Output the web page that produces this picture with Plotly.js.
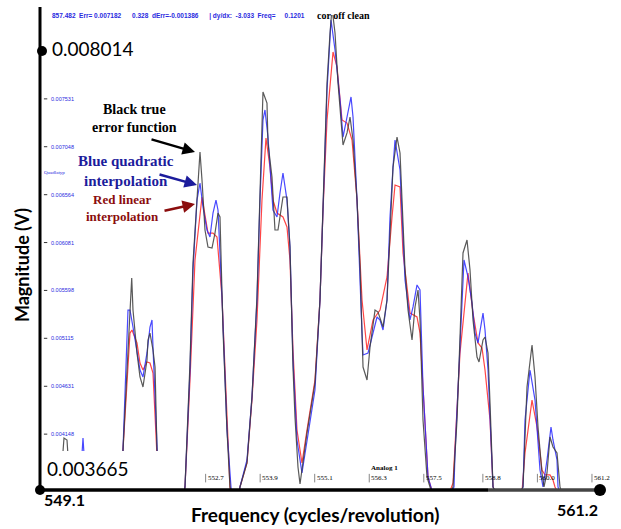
<!DOCTYPE html>
<html>
<head>
<meta charset="utf-8">
<script src="https://cdn.plot.ly/plotly-3.0.1.min.js"></script>
<style>html,body{margin:0;padding:0;background:#fff;}#chart{width:621px;height:529px;}</style>
</head>
<body>
<div id="chart"></div>
<script>
// Frequency (cycles/revolution) and magnitude (V)
const blackFreq = [549.100, 549.452, 549.584, 549.650, 549.760, 550.838, 550.882, 551.074, 551.102, 551.190, 551.256, 551.322, 551.410, 551.432, 551.476, 551.542, 551.587, 551.630, 551.696, 552.136, 552.246, 552.356, 552.422, 552.510, 552.576, 552.620, 552.686, 552.752, 552.840, 552.906, 552.972, 553.016, 553.082, 553.170, 553.236, 553.346, 553.456, 553.610, 553.720, 553.830, 553.896, 553.962, 554.050, 554.072, 554.160, 554.226, 554.292, 554.402, 554.490, 554.556, 554.622, 554.666, 554.732, 554.777, 554.930, 555.106, 555.216, 555.283, 555.371, 555.437, 555.481, 555.547, 555.613, 555.701, 555.723, 555.811, 555.877, 555.943, 556.031, 556.097, 556.163, 556.251, 556.317, 556.427, 556.493, 556.603, 556.691, 556.757, 556.823, 556.911, 556.977, 557.087, 557.153, 557.241, 557.307, 557.373, 557.417, 557.483, 557.571, 557.637, 557.857, 558.143, 558.231, 558.297, 558.363, 558.451, 558.517, 558.583, 558.671, 558.715, 558.803, 558.847, 558.913, 558.957, 559.023, 559.353, 559.683, 559.771, 559.881, 559.947, 560.013, 560.101, 560.145, 560.211, 560.277, 560.343, 560.431, 560.497, 560.717];
const blackMag = [0.0033, 0.0033, 0.004109, 0.004089, 0.0033, 0.0033, 0.003988, 0.005723, 0.0054, 0.004967, 0.004725, 0.004624, 0.004896, 0.005098, 0.005168, 0.004997, 0.004825, 0.003988, 0.0033, 0.0033, 0.003615, 0.004866, 0.005875, 0.006541, 0.006995, 0.006712, 0.006208, 0.006036, 0.006026, 0.006177, 0.006379, 0.006339, 0.005199, 0.00419, 0.003615, 0.0033, 0.003615, 0.003857, 0.004523, 0.005532, 0.006541, 0.0076, 0.007489, 0.007086, 0.006743, 0.006208, 0.006208, 0.006541, 0.006541, 0.006036, 0.004825, 0.004321, 0.003816, 0.003645, 0.004159, 0.004664, 0.005501, 0.00651, 0.007691, 0.008196, 0.008448, 0.008196, 0.007691, 0.007187, 0.007065, 0.007187, 0.007348, 0.007116, 0.00651, 0.005834, 0.004825, 0.004694, 0.005027, 0.0054, 0.00538, 0.005229, 0.005501, 0.006177, 0.006843, 0.007146, 0.006985, 0.005804, 0.0054, 0.005098, 0.005431, 0.005602, 0.0053, 0.004291, 0.003715, 0.003615, 0.0033, 0.003615, 0.004291, 0.005128, 0.005976, 0.006107, 0.005804, 0.0053, 0.004926, 0.004876, 0.005098, 0.005128, 0.004967, 0.004462, 0.003615, 0.0033, 0.003615, 0.004624, 0.005047, 0.004725, 0.00422, 0.003756, 0.003615, 0.003756, 0.004119, 0.004018, 0.003958, 0.003615, 0.0033];

const blueFreq = [549.100, 549.892, 550.002, 550.112, 550.838, 550.882, 550.992, 551.036, 551.102, 551.190, 551.256, 551.322, 551.410, 551.476, 551.520, 551.542, 551.630, 551.696, 552.136, 552.246, 552.356, 552.422, 552.510, 552.576, 552.642, 552.730, 552.796, 552.862, 552.928, 552.972, 553.060, 553.170, 553.258, 553.346, 553.456, 553.610, 553.720, 553.830, 553.896, 553.962, 554.006, 554.072, 554.182, 554.270, 554.336, 554.402, 554.490, 554.556, 554.622, 554.710, 554.820, 554.930, 555.106, 555.216, 555.283, 555.371, 555.459, 555.547, 555.657, 555.723, 555.811, 555.899, 555.943, 556.031, 556.141, 556.163, 556.273, 556.471, 556.537, 556.603, 556.691, 556.757, 556.823, 556.867, 556.977, 557.087, 557.197, 557.263, 557.351, 557.417, 557.483, 557.593, 557.857, 558.165, 558.187, 558.297, 558.385, 558.473, 558.561, 558.627, 558.693, 558.803, 558.847, 558.913, 559.001, 559.023, 559.353, 559.683, 559.727, 559.837, 559.947, 560.057, 560.123, 560.211, 560.299, 560.343, 560.431, 560.453, 560.717];
const blueMag = [0.0033, 0.0033, 0.004109, 0.0033, 0.0033, 0.003988, 0.0054, 0.0054, 0.005229, 0.004997, 0.004795, 0.004725, 0.004967, 0.005229, 0.0053, 0.005027, 0.003988, 0.0033, 0.0033, 0.003615, 0.004795, 0.005804, 0.00651, 0.006682, 0.00644, 0.006208, 0.006137, 0.006379, 0.00651, 0.00641, 0.005532, 0.00419, 0.003615, 0.0033, 0.003615, 0.003887, 0.004523, 0.005501, 0.00651, 0.007318, 0.007419, 0.007146, 0.00641, 0.006339, 0.006581, 0.006783, 0.00651, 0.006036, 0.004896, 0.004089, 0.003756, 0.004089, 0.004593, 0.005501, 0.00651, 0.00762, 0.008327, 0.008024, 0.007519, 0.007146, 0.007348, 0.00755, 0.007348, 0.00651, 0.005168, 0.004947, 0.004967, 0.00533, 0.0053, 0.005199, 0.005501, 0.006339, 0.006843, 0.007116, 0.006813, 0.005703, 0.0053, 0.005431, 0.005653, 0.005602, 0.004624, 0.003715, 0.0033, 0.003615, 0.003958, 0.005128, 0.005905, 0.005734, 0.005471, 0.005168, 0.005068, 0.00537, 0.005199, 0.004795, 0.003958, 0.003615, 0.0033, 0.003615, 0.004291, 0.004795, 0.004492, 0.003786, 0.003615, 0.003887, 0.00422, 0.004089, 0.003887, 0.003615, 0.0033];

const redFreq = [549.100, 550.838, 550.882, 551.036, 551.080, 551.190, 551.256, 551.322, 551.410, 551.476, 551.542, 551.630, 551.696, 552.136, 552.246, 552.356, 552.466, 552.620, 552.686, 552.752, 552.862, 552.950, 553.060, 553.170, 553.236, 553.346, 553.456, 553.610, 553.720, 553.830, 553.940, 554.028, 554.116, 554.182, 554.270, 554.402, 554.490, 554.556, 554.622, 554.710, 554.820, 554.930, 555.106, 555.216, 555.283, 555.371, 555.503, 555.591, 555.701, 555.811, 555.921, 556.031, 556.141, 556.251, 556.383, 556.537, 556.691, 556.801, 556.867, 556.977, 557.043, 557.197, 557.351, 557.417, 557.483, 557.593, 557.857, 558.143, 558.297, 558.473, 558.583, 558.693, 558.781, 558.847, 558.957, 559.023, 559.353, 559.616, 559.727, 559.881, 559.991, 560.101, 560.167, 560.277, 560.343, 560.387, 560.717];
const redMag = [0.0033, 0.0033, 0.003988, 0.005168, 0.005199, 0.005068, 0.004866, 0.004795, 0.004876, 0.004866, 0.004765, 0.003988, 0.0033, 0.0033, 0.003615, 0.004694, 0.005905, 0.006541, 0.006339, 0.006177, 0.006177, 0.006137, 0.005532, 0.00426, 0.003615, 0.0033, 0.003615, 0.003857, 0.004492, 0.0053, 0.00651, 0.007136, 0.006843, 0.00651, 0.006379, 0.006339, 0.006238, 0.005905, 0.004997, 0.00419, 0.003857, 0.00419, 0.004694, 0.005501, 0.00641, 0.007318, 0.008004, 0.007853, 0.007318, 0.007287, 0.007116, 0.00651, 0.005501, 0.004997, 0.0053, 0.0054, 0.005734, 0.006339, 0.006662, 0.006642, 0.005976, 0.00537, 0.00533, 0.005168, 0.004624, 0.003715, 0.0033, 0.003655, 0.004967, 0.005774, 0.00537, 0.005068, 0.005017, 0.004795, 0.004291, 0.003615, 0.0033, 0.0033, 0.003958, 0.004492, 0.00422, 0.003786, 0.003736, 0.003736, 0.003685, 0.003615, 0.0033];

// Axis extremes and inner tick labels
const xMin = 549.1, xMax = 561.2;
const yMin = 0.003665, yMax = 0.008014;
const innerYTicks = [0.007531, 0.007048, 0.006564, 0.006081, 0.005598, 0.005115, 0.004631, 0.004148];
const innerXTicks = [552.7, 553.9, 555.1, 556.3, 557.5, 558.8, 560.0, 561.2];
const infoText = "857.482  Err= 0.007182      0.328  dErr=-0.001386      | dy/dx:  -3.033  Freq=     0.1201";

const traces = [
  {x: redFreq, y: redMag, mode: 'lines', line: {color: 'rgb(255,70,70)', width: 1.2}, hoverinfo: 'skip'},
  {x: blueFreq, y: blueMag, mode: 'lines', line: {color: 'rgb(40,40,255)', width: 1.2}, opacity: 0.85, hoverinfo: 'skip'},
  {x: blackFreq, y: blackMag, mode: 'lines', line: {color: 'rgb(60,60,60)', width: 1.2}, opacity: 0.85, hoverinfo: 'skip'}
];

const serif = 'Liberation Serif';
const sans = 'Lato';

const annotations = [
  {xref: 'paper', yref: 'paper', x: 0.018, y: 0.9305, xanchor: 'left', yanchor: 'middle', text: yMax.toFixed(6), showarrow: false, font: {family: sans, size: 19, color: '#000'}},
  {xref: 'paper', yref: 'paper', x: 0.009, y: 0.0463, xanchor: 'left', yanchor: 'middle', text: yMin.toFixed(6), showarrow: false, font: {family: sans, size: 19, color: '#000'}},
  {xref: 'paper', yref: 'paper', x: 0.004, y: -0.021, xanchor: 'left', yanchor: 'middle', text: xMin.toFixed(1), showarrow: false, font: {family: sans, size: 16, color: '#000', weight: 'bold'}},
  {xref: 'paper', yref: 'paper', x: 1.0, y: -0.042, xanchor: 'right', yanchor: 'middle', text: xMax.toFixed(1), showarrow: false, font: {family: sans, size: 16, color: '#000', weight: 'bold'}},
  {xref: 'paper', yref: 'paper', x: 0.491, y: -0.0526, xanchor: 'center', yanchor: 'middle', text: 'Frequency (cycles/revolution)', showarrow: false, font: {family: sans, size: 19, color: '#000', weight: 'bold'}},
  {xref: 'paper', yref: 'paper', x: -0.032, y: 0.4737, xanchor: 'center', yanchor: 'middle', textangle: -90, text: 'Magnitude (V)', showarrow: false, font: {family: sans, size: 18, color: '#000', weight: 'bold'}},
  {xref: 'paper', yref: 'paper', x: 0.168, y: 0.783, xanchor: 'center', yanchor: 'middle', text: 'Black true<br>error function', showarrow: false, font: {family: serif, size: 14, color: '#000', weight: 'bold'}},
  {xref: 'paper', yref: 'paper', x: 0.154, y: 0.672, xanchor: 'center', yanchor: 'middle', text: 'Blue quadratic<br>interpolation', showarrow: false, font: {family: serif, size: 15, color: '#1c1c9c', weight: 'bold'}},
  {xref: 'paper', yref: 'paper', x: 0.148, y: 0.594, xanchor: 'center', yanchor: 'middle', text: 'Red linear<br>interpolation', showarrow: false, font: {family: serif, size: 13, color: '#8b0d0d', weight: 'bold'}},
  {xref: 'paper', yref: 'paper', x: 0.2768, y: 0.7116, ax: -45, ay: -13, text: '', showarrow: true, arrowhead: 2, arrowsize: 1, arrowwidth: 2.5, arrowcolor: '#000'},
  {xref: 'paper', yref: 'paper', x: 0.2804, y: 0.6421, ax: -39, ay: -11, text: '', showarrow: true, arrowhead: 2, arrowsize: 1, arrowwidth: 2.5, arrowcolor: '#1c1c9c'},
  {xref: 'paper', yref: 'paper', x: 0.2768, y: 0.6021, ax: -32, ay: 7, text: '', showarrow: true, arrowhead: 2, arrowsize: 1, arrowwidth: 2.5, arrowcolor: '#8b0d0d'},
  {xref: 'paper', yref: 'paper', x: 0.018, y: 0.998, xanchor: 'left', yanchor: 'middle', text: infoText, showarrow: false, font: {family: 'Liberation Sans', size: 6.5, color: '#2a2ae0', weight: 'bold'}},
  {xref: 'paper', yref: 'paper', x: 0.491, y: 0.998, xanchor: 'left', yanchor: 'middle', text: 'cor off clean', showarrow: false, font: {family: serif, size: 10, color: '#000', weight: 'bold'}},
  {xref: 'paper', yref: 'paper', x: 0.004, y: 0.669, xanchor: 'left', yanchor: 'middle', text: 'Quadlatyp', showarrow: false, font: {family: serif, size: 5, color: '#2a2ae0'}},
  {xref: 'x', yref: 'paper', x: 556.3, y: 0.047, xanchor: 'left', yanchor: 'middle', text: 'Analog 1', showarrow: false, font: {family: serif, size: 7, color: '#000', weight: 'bold'}}
];
innerYTicks.forEach(v => annotations.push({xref: 'paper', yref: 'y', x: 0.016, y: v, xanchor: 'left', yanchor: 'middle', text: v.toFixed(6), showarrow: false, font: {family: 'Liberation Sans', size: 5.5, color: '#2a2ae0'}}));
innerXTicks.forEach(v => annotations.push({xref: 'x', yref: 'paper', x: v, y: 0.025, xanchor: 'left', yanchor: 'middle', text: v.toFixed(1), showarrow: false, font: {family: serif, size: 7, color: '#000'}}));

const shapes = [
  // white box that hides the curves beneath the lower-left label
  {type: 'rect', xref: 'paper', yref: 'paper', x0: 0.004, x1: 0.232, y0: 0.002, y1: 0.082, fillcolor: '#fff', line: {width: 0}, layer: 'above'}
];
innerYTicks.forEach(v => shapes.push({type: 'line', xref: 'paper', yref: 'y', x0: 0.007, x1: 0.013, y0: v, y1: v, line: {color: '#333', width: 1}, layer: 'above'}));
innerXTicks.forEach(v => shapes.push({type: 'line', xref: 'x', yref: 'paper', x0: v, x1: v, y0: 0.016, y1: 0.034, line: {color: '#555', width: 0.7}, layer: 'above'}));
shapes.push(
  {type: 'line', xref: 'paper', yref: 'paper', x0: 0.0, x1: 0.0, y0: 0.0, y1: 1.017, line: {color: '#000', width: 3}, layer: 'above'},
  {type: 'line', xref: 'paper', yref: 'paper', x0: 0.0, x1: 0.80, y0: 0.0, y1: 0.0, line: {color: '#000', width: 3.5}, layer: 'above'},
  {type: 'line', xref: 'paper', yref: 'paper', x0: 0.80, x1: 1.0, y0: 0.0, y1: 0.0, line: {color: '#444', width: 3.5}, layer: 'above'},
  {type: 'circle', xref: 'paper', yref: 'y', xsizemode: 'pixel', ysizemode: 'pixel', xanchor: 0.0036, yanchor: yMax, x0: -5, x1: 5, y0: -5, y1: 5, fillcolor: '#000', line: {color: '#000', width: 0}, layer: 'above'},
  {type: 'circle', xref: 'paper', yref: 'paper', xsizemode: 'pixel', ysizemode: 'pixel', xanchor: 0.0, yanchor: 0.0, x0: -5, x1: 5, y0: -5, y1: 5, fillcolor: '#000', line: {color: '#000', width: 0}, layer: 'above'},
  {type: 'circle', xref: 'paper', yref: 'paper', xsizemode: 'pixel', ysizemode: 'pixel', xanchor: 1.0, yanchor: 0.0, x0: -6, x1: 6, y0: -6, y1: 6, fillcolor: '#000', line: {color: '#000', width: 0}, layer: 'above'}
);

const layout = {
  width: 621, height: 529,
  margin: {l: 40, r: 21, t: 15, b: 39, pad: 0},
  paper_bgcolor: '#fff', plot_bgcolor: '#fff',
  showlegend: false,
  xaxis: {range: [549.056, 561.377], visible: false, showgrid: false, zeroline: false, fixedrange: true},
  yaxis: {range: [0.0035843, 0.0083772], visible: false, showgrid: false, zeroline: false, fixedrange: true},
  annotations: annotations,
  shapes: shapes
};

Plotly.newPlot('chart', traces, layout, {displayModeBar: false, staticPlot: true});
</script>
</body>
</html>
